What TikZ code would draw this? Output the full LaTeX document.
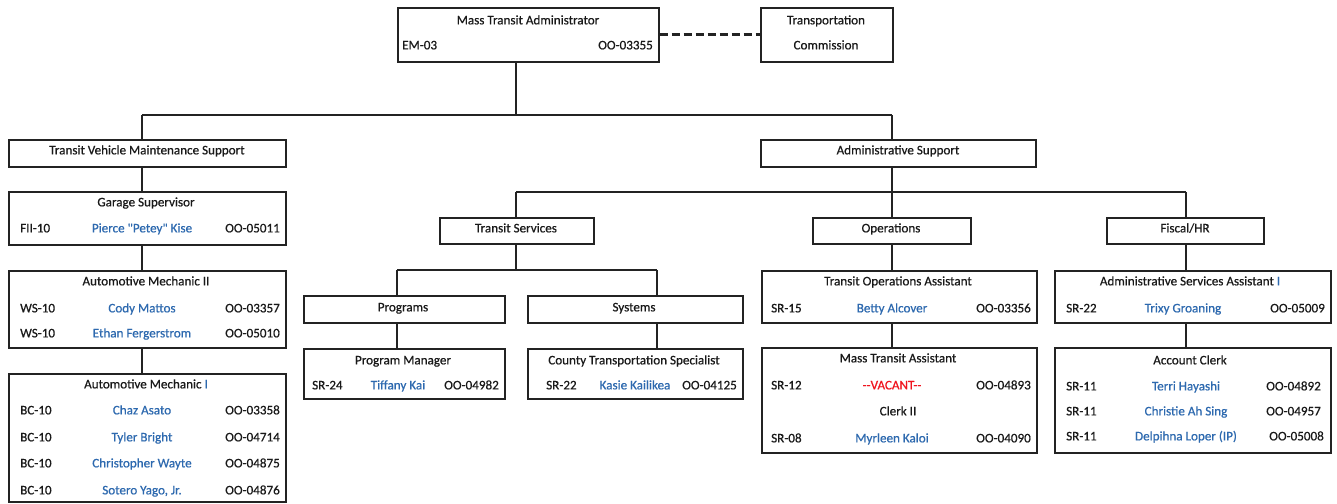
\documentclass[tikz,border=0pt]{standalone}
\usepackage{fontspec}
\setmainfont{Carlito}[Ligatures=TeXOff,FakeBold=0.6]
\definecolor{nm}{RGB}{45,105,175}
\definecolor{ln}{RGB}{35,35,35}
\definecolor{vac}{RGB}{240,20,30}
\tikzset{
  box/.style={draw=ln,line width=1.6pt,fill=white,inner sep=0pt,anchor=north west},
  conn/.style={draw=ln,line width=1.5pt},
  txt/.style={inner sep=0pt,font=\fontsize{13.1}{15}\selectfont,text=black!90},
  pname/.style={txt,text=nm},
}
\newcommand\bx[5]{\node[box,minimum width={(#4-#2)*1pt},minimum height={(#5-#3)*1pt}] (#1) at (#2,#3) {};}
\newcommand\tL[5][txt]{\node[#1,anchor=mid west] (#2) at (#3,#4) {#5};}
\newcommand\tC[5][txt]{\node[#1,anchor=mid] (#2) at (#3,#4) {#5};}
\newcommand\tR[5][txt]{\node[#1,anchor=mid east] (#2) at (#3,#4) {#5};}
\begin{document}
\begin{tikzpicture}[x=1pt,y=-1pt]
\useasboundingbox (0,0) rectangle (1337,503);
% bus coordinates
\coordinate (b1L) at (142,115);
\coordinate (b1M) at (516,115);
\coordinate (b1R) at (892,115);
\coordinate (b2L) at (516,192);
\coordinate (b2M) at (892,192);
\coordinate (b2R) at (1186,192);
\coordinate (b3L) at (397,270);
\coordinate (b3M) at (516,270);
\coordinate (b3R) at (657,270);
% connectors (drawn first, boxes cover them)
\draw[conn] (b1L) -- (b1R);
\draw[conn] (b2L) -- (b2R);
\draw[conn] (b3L) -- (b3R);
\draw[conn] (b1M) -- (516,61);
\draw[conn] (b1L) -- (142,500);
\draw[conn] (b1R) -- (892,217);
\draw[conn] (b2L) -- (516,217);
\draw[conn] (b2R) -- (1186,347);
\draw[conn] (892,243) -- (892,347);
\draw[conn] (516,243) -- (b3M);
\draw[conn] (b3L) -- (397,348);
\draw[conn] (b3R) -- (657,348);
% boxes
\bx{mta}{397}{7}{658}{61}
\bx{tc}{760}{7}{892}{61}
\draw[conn,line width=3pt,dash pattern=on 8pt off 4pt] (mta.east) -- (tc.west);
\bx{tvms}{8}{139}{285}{166}
\bx{as}{760}{139}{1035}{166}
\bx{gs}{8}{191}{285}{244}
\bx{amb}{8}{270}{285}{347}
\bx{ama}{8}{373}{285}{501}
\bx{ts}{439}{217}{593}{243}
\bx{ops}{812}{217}{970}{243}
\bx{fhr}{1106}{217}{1263}{243}
\bx{prog}{303}{295}{504}{322}
\bx{sys}{527}{295}{742}{322}
\bx{pm}{303}{348}{504}{398}
\bx{cts}{527}{348}{742}{398}
\bx{toa}{761}{270}{1036}{322}
\bx{mtas}{761}{347}{1036}{452}
\bx{asa}{1054}{270}{1330}{322}
\bx{ac}{1054}{347}{1330}{452}
% top texts
\tC{t1}{528}{22}{Mass Transit Administrator}
\tL{t2}{402}{47}{EM-03}
\tR{t3}{653}{47}{OO-03355}
\tC{t4}{826}{22}{Transportation}
\tC{t5}{826}{47}{Commission}
\tC{t6}{147}{152}{Transit Vehicle Maintenance Support}
\tC{t7}{898}{152}{Administrative Support}
% garage supervisor
\tC{g1}{146}{204}{Garage Supervisor}
\tL{g2}{20}{230}{FII-10}
\tC[pname]{g3}{142}{230}{Pierce "Petey" Kise}
\tR{g4}{280}{230}{OO-05011}
% automotive mechanic II
\tC{m1}{146}{283}{Automotive Mechanic II}
\tL{m2}{20}{310}{WS-10}
\tC[pname]{m3}{142}{310}{Cody Mattos}
\tR{m4}{280}{310}{OO-03357}
\tL{m5}{20}{335}{WS-10}
\tC[pname]{m6}{142}{335}{Ethan Fergerstrom}
\tR{m7}{280}{335}{OO-05010}
% automotive mechanic I
\tC{n1}{146}{386}{Automotive Mechanic \textcolor{nm}{I}}
\tL{n2}{20}{412}{BC-10}
\tC[pname]{n3}{142}{412}{Chaz Asato}
\tR{n4}{280}{412}{OO-03358}
\tL{n5}{20}{439}{BC-10}
\tC[pname]{n6}{142}{439}{Tyler Bright}
\tR{n7}{280}{439}{OO-04714}
\tL{n8}{20}{465}{BC-10}
\tC[pname]{n9}{142}{465}{Christopher Wayte}
\tR{n10}{280}{465}{OO-04875}
\tL{n11}{20}{492}{BC-10}
\tC[pname]{n12}{142}{492}{Sotero Yago, Jr.}
\tR{n13}{280}{492}{OO-04876}
% transit services
\tC{s1}{516}{230}{Transit Services}
\tC{s2}{403}{309}{Programs}
\tC{s3}{634}{309}{Systems}
\tC{s4}{403}{362}{Program Manager}
\tL{s5}{312}{387}{SR-24}
\tC[pname]{s6}{398}{387}{Tiffany Kai}
\tR{s7}{499}{387}{OO-04982}
\tC{s8}{634}{362}{County Transportation Specialist}
\tL{s9}{546}{387}{SR-22}
\tC[pname]{s10}{635}{387}{Kasie Kailikea}
\tR{s11}{737}{387}{OO-04125}
% operations
\tC{o1}{891}{230}{Operations}
\tC{o2}{898}{283}{Transit Operations Assistant}
\tL{o3}{771}{310}{SR-15}
\tC[pname]{o4}{892}{310}{Betty Alcover}
\tR{o5}{1031}{310}{OO-03356}
\tC{o6}{898}{360}{Mass Transit Assistant}
\tL{o7}{771}{387}{SR-12}
\tC[txt,text=vac]{o8}{892}{387}{--VACANT--}
\tR{o9}{1031}{387}{OO-04893}
\tC{o10}{898}{413}{Clerk II}
\tL{o11}{771}{440}{SR-08}
\tC[pname]{o12}{892}{440}{Myrleen Kaloi}
\tR{o13}{1031}{440}{OO-04090}
% fiscal
\tC{f1}{1185}{230}{Fiscal/HR}
\tC{f2}{1190}{283}{Administrative Services Assistant \textcolor{nm}{I}}
\tL{f3}{1066}{310}{SR-22}
\tC[pname]{f4}{1183}{310}{Trixy Groaning}
\tR{f5}{1325}{310}{OO-05009}
\tC{f6}{1190}{362}{Account Clerk}
\tL{f7}{1066}{388}{SR-11}
\tC[pname]{f8}{1186}{388}{Terri Hayashi}
\tR{f9}{1321}{388}{OO-04892}
\tL{f10}{1066}{413}{SR-11}
\tC[pname]{f11}{1186}{413}{Christie Ah Sing}
\tR{f12}{1321}{413}{OO-04957}
\tL{f13}{1066}{438}{SR-11}
\tC[pname]{f14}{1186}{438}{Delpihna Loper (IP)}
\tR{f15}{1324}{438}{OO-05008}
\end{tikzpicture}
\end{document}
